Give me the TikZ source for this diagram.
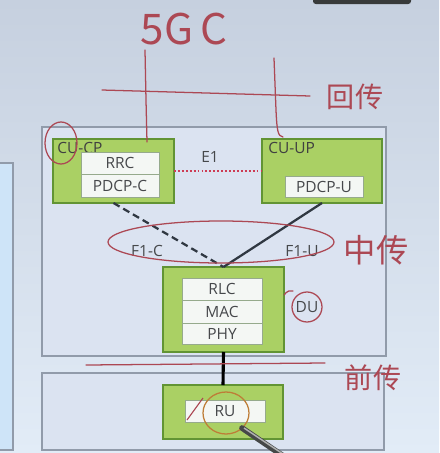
\documentclass[tikz,border=0pt]{standalone}
\usepackage{fontspec}
\setmainfont{Open Sans}
\newfontfamily\hand{Noto Sans CJK SC}
\usetikzlibrary{shapes}

\definecolor{bgtop}{RGB}{198,208,223}
\definecolor{bgbottom}{RGB}{226,236,247}
\definecolor{panelfill}{RGB}{219,227,241}
\definecolor{panelline}{RGB}{145,155,170}
\definecolor{leftfill}{RGB}{206,228,248}
\definecolor{greenfill}{RGB}{170,208,100}
\definecolor{greenline}{RGB}{98,148,52}
\definecolor{layerfill}{RGB}{244,247,244}
\definecolor{layerline}{RGB}{150,170,140}
\definecolor{slidetext}{RGB}{70,72,75}
\definecolor{handred}{RGB}{172,72,84}
\definecolor{handorange}{RGB}{190,125,55}
\definecolor{dotred}{RGB}{205,60,85}
\definecolor{linkgray}{RGB}{48,56,66}
\definecolor{pengray}{RGB}{70,72,72}

\tikzset{
  panel/.style={draw=panelline,fill=panelfill,line width=0.8pt,inner sep=0pt,outer sep=0pt},
  greenbox/.style={draw=greenline,fill=greenfill,line width=1pt,inner sep=0pt,outer sep=0pt},
  layer/.style={draw=layerline,fill=layerfill,line width=0.6pt,inner sep=0pt,
    text=slidetext,font=\fontsize{11}{13}\selectfont},
  boxname/.style={anchor=north west,inner sep=0pt,text=black!75,font=\fontsize{11}{13}\selectfont},
  slidelabel/.style={text=slidetext,font=\fontsize{11}{13}\selectfont},
  pen/.style={draw=handred,line width=0.9pt,line cap=round},
  handtext/.style={text=handred,font=\hand\fontsize{20}{20}\selectfont}
}

\begin{document}
\begin{tikzpicture}[x=0.25mm,y=-0.25mm]
\clip (0,0) rectangle (439,453);
\shade[top color=bgtop,bottom color=bgbottom] (0,0) rectangle (439,453);
\fill[pengray!80!black,rounded corners=2pt] (313,-5) rectangle (411,4);

\node[panel,fill=leftfill,minimum width=3.75mm,minimum height=71.75mm] (leftpanel) at (5.5,306.5) {};
\node[panel,minimum width=86mm,minimum height=57.25mm] (cupanel) at (214,241.5) {};
\node[panel,minimum width=85.5mm,minimum height=19.25mm] (rupanel) at (213,411.5) {};

\node[greenbox,minimum width=30.25mm,minimum height=16mm] (cucp) at (113.5,171) {};
\node[boxname] (cucpname) at (57,142) {CU-CP};
\node[layer,minimum width=19.5mm,minimum height=5.5mm] (rrc) at (120,163) {RRC};
\node[layer,minimum width=19.5mm,minimum height=5.75mm] (pdcpc) at (120,185.5) {PDCP-C};

\node[greenbox,minimum width=30mm,minimum height=16mm] (cuup) at (322,171) {};
\node[boxname] (cuupname) at (268,142) {CU-UP};
\node[layer,minimum width=19.5mm,minimum height=5.25mm] (pdcpu) at (324,186.5) {PDCP-U};

\node[greenbox,minimum width=30.25mm,minimum height=21.25mm] (du) at (223.5,309.5) {};
\node[layer,minimum width=20mm,minimum height=5.5mm] (rlc) at (222,289) {RLC};
\node[layer,minimum width=20mm,minimum height=5.75mm] (mac) at (222,311.5) {MAC};
\node[layer,minimum width=20mm,minimum height=5.25mm] (phy) at (222,333.5) {PHY};
\node[slidelabel] (duname) at (307,307) {DU};

\node[greenbox,minimum width=30mm,minimum height=13.5mm] (ru) at (223,412) {};
\node[layer,minimum width=20mm,minimum height=5.5mm] (rubox) at (225,411) {RU};

\node[slidelabel] (eone) at (210,157) {E1};
\node[slidelabel] (fonec) at (147,251) {F1-C};
\node[slidelabel] (fyoneu) at (302,251) {F1-U};

\draw[dotred,line width=1.5pt,dash pattern=on 1.3pt off 1.5pt] (cucp) -- (cuup);
\draw[linkgray,line width=1.6pt,dash pattern=on 5pt off 3pt] (cucp.south) -- (du.north);
\draw[linkgray,line width=1.6pt] (cuup.south) -- (du.north);
\draw[black,line width=2.2pt] (du.south) -- (ru.north);

\node[handtext,font=\hand\fontsize{30}{30}\selectfont] (fivegc) at (184,29) {5G\,C};
\draw[pen] (145,50) -- (146,100) -- (147,142);
\draw[pen] (274,58) -- (276,110) .. controls (277,132) and (278,136) .. (283,137);
\draw[pen] (102,90) -- (310,96);
\node[handtext] (backhaul) at (355,97) {回传};

\draw[pen] (61,143) ellipse [x radius=16,y radius=21];
\draw[pen] (221,242) ellipse [x radius=113,y radius=21];
\node[handtext,font=\hand\fontsize{23}{23}\selectfont] (midhaul) at (376,250) {中传};
\draw[pen] (284,295) .. controls (287,291) and (290,290) .. (293,291);
\draw[pen] (307,307) circle [radius=15];

\draw[pen] (86,365) -- (325,363);
\node[handtext] (fronthaul) at (373,378) {前传};

\draw[handorange,line width=0.9pt] (226,413) ellipse [x radius=23,y radius=21];
\draw[handred,line width=0.8pt] (187,420) -- (203,398);
\draw[pengray,line width=4pt,line cap=round] (242,428) -- (292,462);
\draw[gray!60,line width=1pt] (244,428) -- (292,460);
\end{tikzpicture}
\end{document}
